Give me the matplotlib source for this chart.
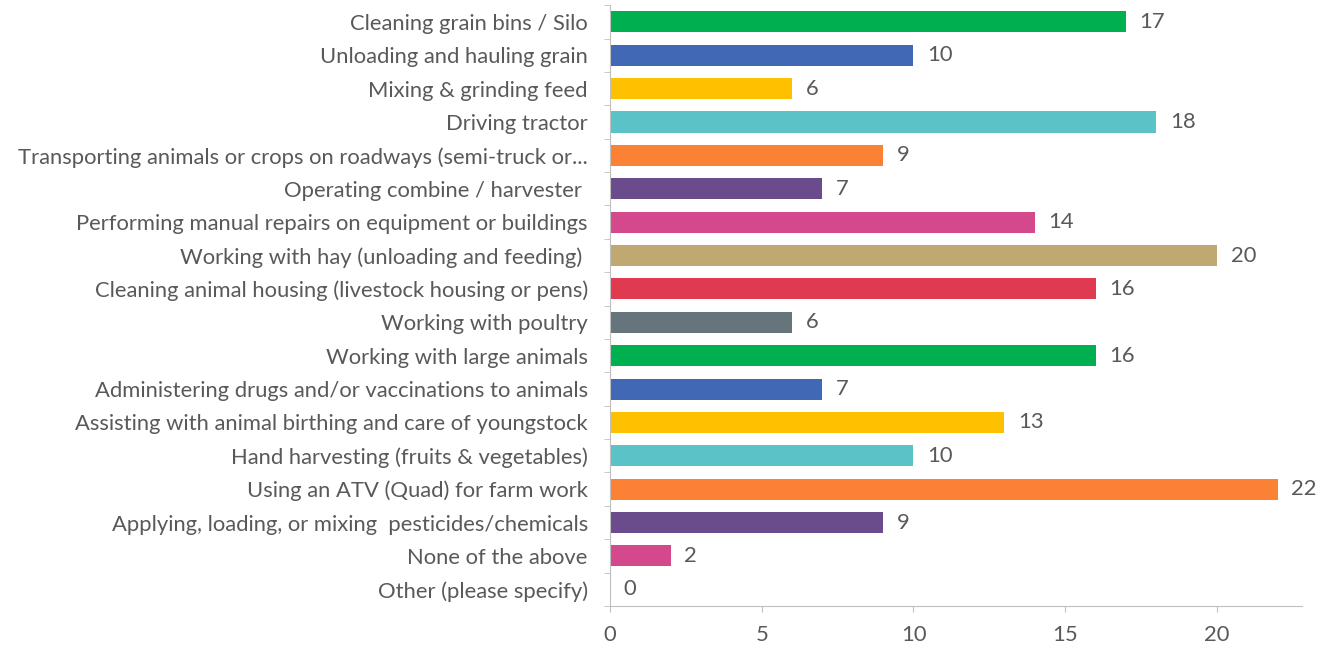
import matplotlib.pyplot as plt
import numpy as np

categories = [
    'Cleaning grain bins / Silo',
    'Unloading and hauling grain',
    'Mixing & grinding feed',
    'Driving tractor',
    'Transporting animals or crops on roadways (semi-truck or...',
    'Operating combine / harvester ',
    'Performing manual repairs on equipment or buildings',
    'Working with hay (unloading and feeding) ',
    'Cleaning animal housing (livestock housing or pens)',
    'Working with poultry',
    'Working with large animals',
    'Administering drugs and/or vaccinations to animals',
    'Assisting with animal birthing and care of youngstock',
    'Hand harvesting (fruits & vegetables)',
    'Using an ATV (Quad) for farm work',
    'Applying, loading, or mixing  pesticides/chemicals',
    'None of the above',
    'Other (please specify)',
]
counts = [17, 10, 6, 18, 9, 7, 14, 20, 16, 6, 16, 7, 13, 10, 22, 9, 2, 0]
colors = ['#00B050', '#4068B4', '#FFC000', '#5BC3C8', '#FB8135', '#6A4C8C',
          '#D4488C', '#BFA872', '#E03A50', '#66757C', '#00B050', '#4068B4',
          '#FFC000', '#5BC3C8', '#FB8135', '#6A4C8C', '#D4488C', '#A0A0A0']

plt.rcParams['font.family'] = ['Lato', 'DejaVu Sans']
text_col = '#595959'
fs = 15.8

fig = plt.figure(figsize=(13.19, 6.47), dpi=100)
ax = fig.add_axes([0.4625, 0.0634, 0.5245, 0.9286])

y = np.arange(len(categories))
ax.barh(y, counts, height=0.63, color=colors)
for yi, v in zip(y, counts):
    ax.text(v + 0.45, yi, str(v), va='center', ha='left', fontsize=fs, color=text_col)

ax.set_ylim(len(categories) - 0.5, -0.5)
ax.set_xlim(0, 22.8)
ax.set_yticks(y)
ax.set_yticklabels(categories, fontsize=fs, color=text_col)
ax.set_yticks(np.arange(-0.5, len(categories), 1), minor=True)
ax.tick_params(axis='y', which='major', length=0, pad=16)
ax.tick_params(axis='y', which='minor', length=4, color='#BFBFBF')
ax.set_xticks([0, 5, 10, 15, 20])
ax.tick_params(axis='x', length=4, color='#BFBFBF', labelsize=fs, labelcolor=text_col, pad=10)

for s in ['top', 'right']:
    ax.spines[s].set_visible(False)
for s in ['left', 'bottom']:
    ax.spines[s].set_color('#BFBFBF')

fig.savefig('out.png', dpi=100)
